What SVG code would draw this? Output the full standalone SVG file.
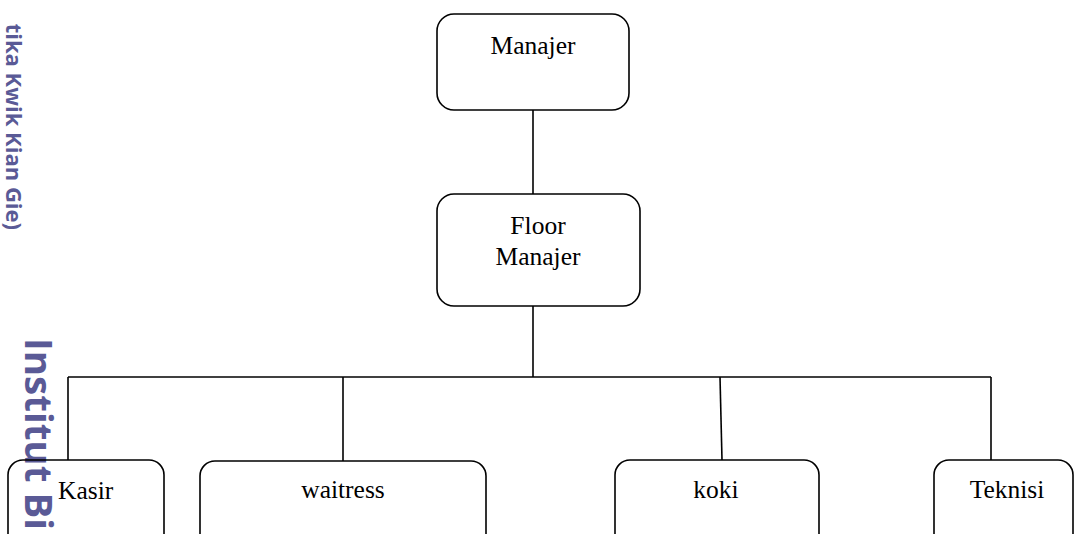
<svg xmlns="http://www.w3.org/2000/svg" width="1075" height="534" viewBox="0 0 1075 534">
<style>
.box{fill:none;stroke:#000;stroke-width:1.6}
.lbl{font-family:"Liberation Serif","Times New Roman",serif;font-size:25.5px;fill:#000;text-anchor:middle}
.wm{font-family:"Open Sans","DejaVu Sans",sans-serif;font-weight:bold;fill:#5a5a96}
.conn line{stroke:#000;stroke-width:1.6}
</style>
<rect width="1075" height="534" fill="#fff"/>
<g id="watermark">
<text class="wm" font-size="22" transform="translate(6,230) rotate(90)" text-anchor="end">tika Kwik Kian Gie)</text>
<text class="wm" font-size="38" transform="translate(25,338) rotate(90)" textLength="192" lengthAdjust="spacingAndGlyphs">Institut Bi</text>
</g>
<g class="conn" id="connectors">
<line x1="533" y1="110" x2="533" y2="194"/>
<line x1="533" y1="306" x2="533" y2="377"/>
<line x1="68" y1="377" x2="991" y2="377"/>
<line x1="68" y1="377" x2="68" y2="460"/>
<line x1="343" y1="377" x2="343" y2="461"/>
<line x1="720" y1="377" x2="722" y2="460"/>
<line x1="991" y1="377" x2="991" y2="460"/>
</g>
<g id="manajer">
<rect class="box" x="437" y="14" width="192" height="96" rx="17"/>
<text class="lbl" x="533" y="54">Manajer</text>
</g>
<g id="floor-manajer">
<rect class="box" x="437" y="194" width="203" height="112" rx="17"/>
<text class="lbl" x="538" y="234">Floor</text>
<text class="lbl" x="538" y="265">Manajer</text>
</g>
<g id="kasir">
<rect class="box" x="8" y="460" width="156" height="90" rx="15"/>
<text class="lbl" x="58" y="499" style="text-anchor:start">Kasir</text>
</g>
<g id="waitress">
<rect class="box" x="200" y="461" width="286" height="90" rx="15"/>
<text class="lbl" x="343" y="498">waitress</text>
</g>
<g id="koki">
<rect class="box" x="615" y="460" width="204" height="90" rx="15"/>
<text class="lbl" x="716" y="498">koki</text>
</g>
<g id="teknisi">
<rect class="box" x="934" y="460" width="139" height="90" rx="15"/>
<text class="lbl" x="1007" y="498">Teknisi</text>
</g>
</svg>
